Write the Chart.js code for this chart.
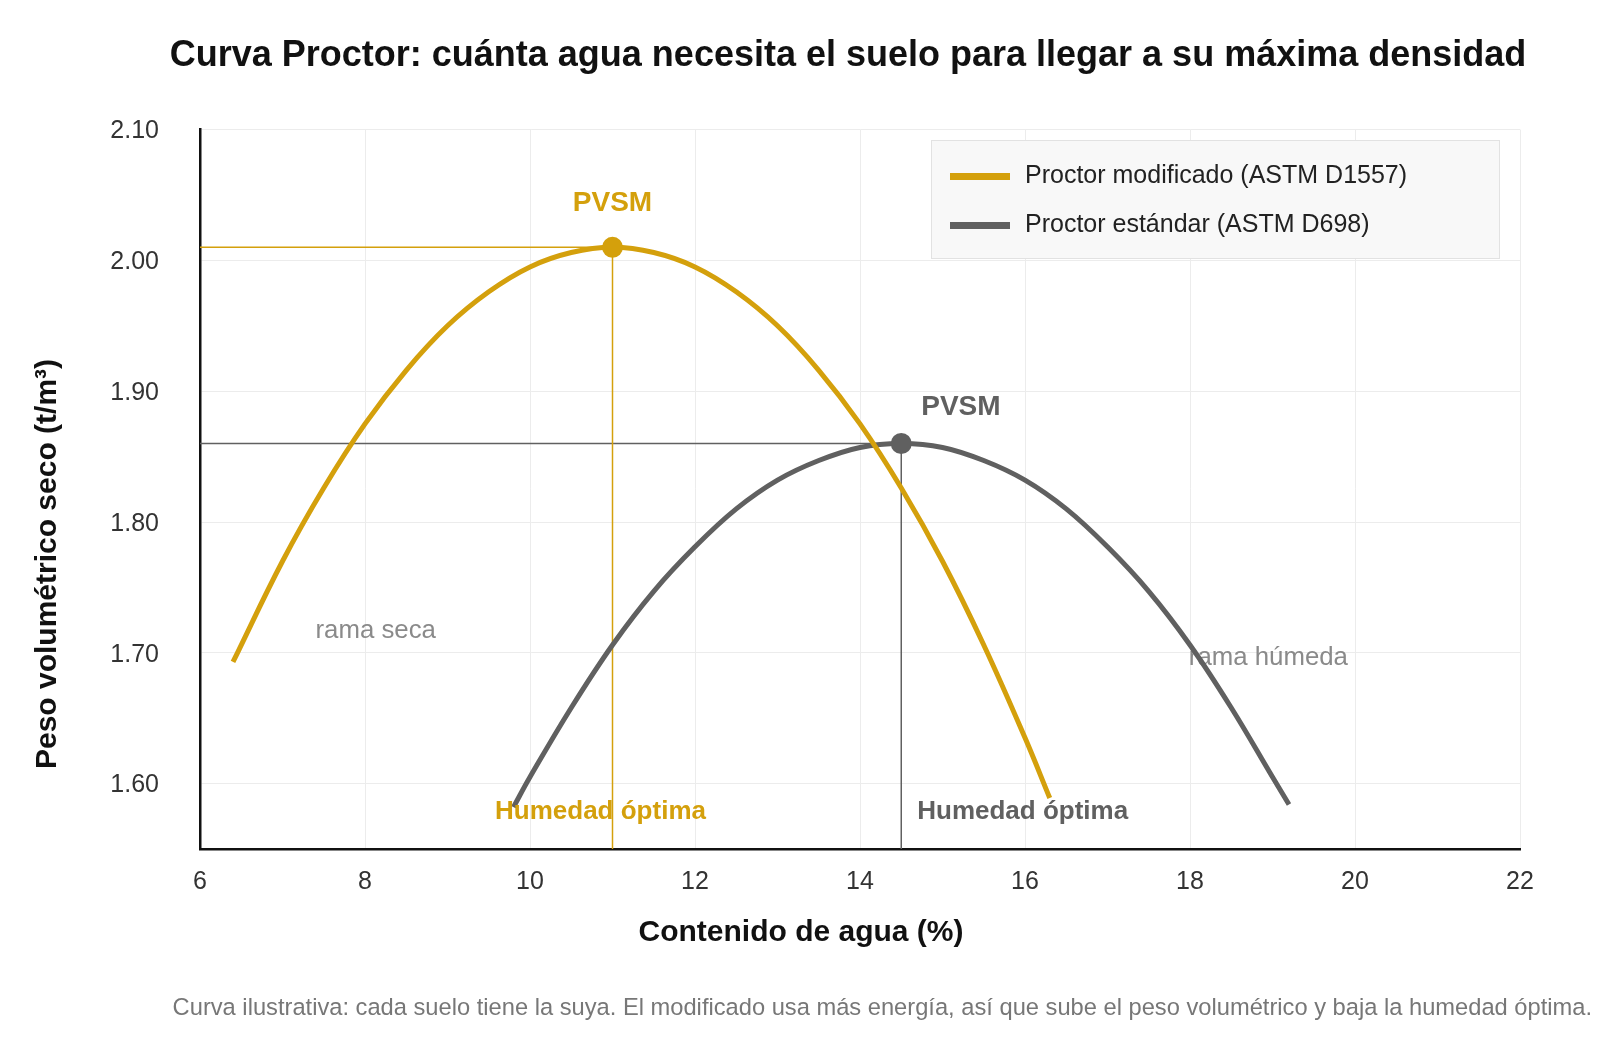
<!DOCTYPE html>
<html>
<head>
<meta charset="utf-8">
<script src="https://cdn.jsdelivr.net/npm/chart.js@4.4.1/dist/chart.umd.min.js"></script>
<style>
  html, body { margin: 0; padding: 0; background: #fff; }
  #wrap { width: 1600px; height: 1040px; position: relative; }
</style>
</head>
<body>
<div id="wrap"><canvas id="proctorChart" width="1600" height="1040"></canvas></div>
<script>
// valores (humedad %, peso volumetrico t/m3)
var modHumedad = [6.4, 7, 7.5, 8, 8.5, 9, 9.5, 10, 10.5, 11, 11.5, 12, 12.5, 13, 13.5, 14, 14.5, 15, 15.5, 16, 16.3];
var modPeso    = [1.693, 1.77, 1.826, 1.875, 1.916, 1.95, 1.976, 1.995, 2.006, 2.01, 2.006, 1.995, 1.976, 1.95, 1.916, 1.875, 1.826, 1.77, 1.706, 1.635, 1.589];

var stdHumedad = [9.8, 10, 10.5, 11, 11.5, 12, 12.5, 13, 13.5, 14, 14.5, 15, 15.5, 16, 16.5, 17, 17.5, 18, 18.5, 19, 19.2];
var stdPeso    = [1.582, 1.605, 1.658, 1.706, 1.747, 1.781, 1.81, 1.832, 1.847, 1.857, 1.86, 1.857, 1.847, 1.832, 1.81, 1.781, 1.747, 1.706, 1.658, 1.605, 1.584];

// maximos (PVSM / humedad optima)
var modOptimo = { x: 11, y: 2.01 };
var stdOptimo = { x: 14.5, y: 1.86 };

var xMin = 6, xMax = 22, yMin = 1.55, yMax = 2.10;
var serieNombres = ['Proctor modificado (ASTM D1557)', 'Proctor estándar (ASTM D698)'];

var ORO = '#D4A00C';
var GRIS = '#606060';
var FONT = '"Liberation Sans", Arial, sans-serif';

function toPoints(xs, ys) {
  return xs.map(function (x, i) { return { x: x, y: ys[i] }; });
}

var data = {
  datasets: [
    {
      label: 'pvsm-mod', data: [modOptimo], showLine: false,
      pointRadius: 10.5, pointBackgroundColor: ORO, pointBorderWidth: 0, order: 0
    },
    {
      label: 'pvsm-std', data: [stdOptimo], showLine: false,
      pointRadius: 10.5, pointBackgroundColor: GRIS, pointBorderWidth: 0, order: 0
    },
    {
      label: serieNombres[0], data: toPoints(modHumedad, modPeso), showLine: true,
      borderColor: ORO, borderWidth: 5, pointRadius: 0, tension: 0.4, order: 1
    },
    {
      label: serieNombres[1], data: toPoints(stdHumedad, stdPeso), showLine: true,
      borderColor: GRIS, borderWidth: 5, pointRadius: 0, tension: 0.4, order: 2
    },
    {
      label: 'ref-mod', showLine: true, borderColor: ORO, borderWidth: 1.5, pointRadius: 0, order: 3,
      data: [{ x: xMin, y: modOptimo.y }, { x: modOptimo.x, y: modOptimo.y }, { x: modOptimo.x, y: yMin }]
    },
    {
      label: 'ref-std', showLine: true, borderColor: GRIS, borderWidth: 1.5, pointRadius: 0, order: 3,
      data: [{ x: xMin, y: stdOptimo.y }, { x: stdOptimo.x, y: stdOptimo.y }, { x: stdOptimo.x, y: yMin }]
    }
  ]
};

// textos dentro del area (detras de las curvas)
var textosPlugin = {
  id: 'textos',
  beforeDatasetsDraw: function (chart) {
    var c = chart.ctx, xs = chart.scales.x, ys = chart.scales.y;
    c.save();
    c.textBaseline = 'middle';
    c.textAlign = 'center';
    c.font = '25.8px ' + FONT;
    c.fillStyle = '#8a8a8a';
    c.fillText('rama seca', xs.getPixelForValue(8.13), ys.getPixelForValue(1.718) + 2);
    c.fillText('rama húmeda', xs.getPixelForValue(18.95), ys.getPixelForValue(1.698) + 2);
    c.restore();
  },
  afterDatasetsDraw: function (chart) {
    var c = chart.ctx, xs = chart.scales.x, ys = chart.scales.y;
    c.save();
    c.textBaseline = 'middle';
    c.font = 'bold 28px ' + FONT;
    c.textAlign = 'center';
    c.fillStyle = ORO;
    c.fillText('PVSM', xs.getPixelForValue(modOptimo.x), ys.getPixelForValue(2.045) + 2);
    c.textAlign = 'left';
    c.fillStyle = GRIS;
    c.fillText('PVSM', xs.getPixelForValue(stdOptimo.x) + 20, ys.getPixelForValue(1.889) + 2);

    c.font = 'bold 26px ' + FONT;
    c.textAlign = 'center';
    c.fillStyle = ORO;
    c.fillText('Humedad óptima', xs.getPixelForValue(modOptimo.x) - 12, ys.getPixelForValue(1.581) + 3);
    c.textAlign = 'left';
    c.fillStyle = GRIS;
    c.fillText('Humedad óptima', xs.getPixelForValue(stdOptimo.x) + 16, ys.getPixelForValue(1.581) + 3);
    c.restore();
  },
  afterDraw: function (chart) {
    var c = chart.ctx;
    c.save();
    // leyenda
    c.fillStyle = '#f8f8f8';
    c.fillRect(931, 140, 569, 119);
    c.strokeStyle = '#e2e2e2';
    c.lineWidth = 1;
    c.strokeRect(931.5, 140.5, 568, 118);
    var colores = [ORO, GRIS];
    var filas = [176, 225];
    c.font = '25px ' + FONT;
    c.textBaseline = 'middle';
    c.textAlign = 'left';
    for (var i = 0; i < 2; i++) {
      c.fillStyle = colores[i];
      c.fillRect(950, filas[i] - 3, 60, 7);
      c.fillStyle = '#222';
      c.fillText(serieNombres[i], 1025, filas[i]);
    }
    // titulo
    c.fillStyle = '#111';
    c.textAlign = 'center';
    c.font = 'bold 36px ' + FONT;
    c.fillText('Curva Proctor: cuánta agua necesita el suelo para llegar a su máxima densidad', 848, 56);
    // titulos de ejes
    c.font = 'bold 30px ' + FONT;
    c.fillText('Contenido de agua (%)', 801, 933);
    c.save();
    c.translate(48, 564);
    c.rotate(-Math.PI / 2);
    c.fillText('Peso volumétrico seco (t/m³)', 0, 0);
    c.restore();
    // nota
    c.font = '23.7px ' + FONT;
    c.fillStyle = '#777';
    c.textAlign = 'right';
    c.fillText('Curva ilustrativa: cada suelo tiene la suya. El modificado usa más energía, así que sube el peso volumétrico y baja la humedad óptima.', 1592, 1008);
    c.restore();
  }
};

var proctorChart = new Chart(document.getElementById('proctorChart').getContext('2d'), {
  type: 'scatter',
  data: data,
  options: {
    responsive: false,
    animation: false,
    layout: { padding: { left: 0, top: 129.6, right: 80, bottom: 0 } },
    plugins: {
      legend: { display: false },
      title: { display: false },
      tooltip: { enabled: false }
    },
    scales: {
      x: {
        type: 'linear', min: xMin, max: xMax,
        afterFit: function (s) { s.height = 191; },
        ticks: { stepSize: 2, padding: 18, color: '#333', font: { size: 25, family: FONT } },
        grid: { color: '#ececec', drawTicks: false },
        border: { color: '#111', width: 2.5 }
      },
      y: {
        type: 'linear', min: yMin, max: yMax,
        afterFit: function (s) { s.width = 200; },
        ticks: {
          stepSize: 0.1, includeBounds: false, padding: 41, color: '#333', labelOffset: 2,
          font: { size: 25, family: FONT },
          callback: function (v) { return v.toFixed(2); }
        },
        grid: { color: '#ececec', drawTicks: false },
        border: { color: '#111', width: 2.5 }
      }
    }
  },
  plugins: [textosPlugin]
});
</script>
</body>
</html>
